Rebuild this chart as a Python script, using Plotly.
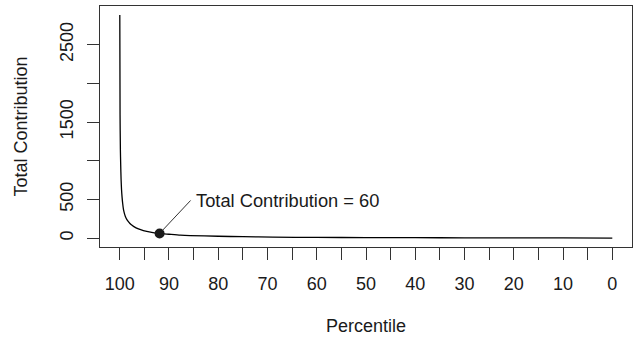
import plotly.graph_objects as go

# Percentile (x) and total contribution (y) of the curve
percentile = [99.98, 99.93, 99.86, 99.8, 99.72, 99.63, 99.52, 99.4, 99.23, 99.05,
              98.85, 98.54, 98.2, 97.7, 97.2, 96.2, 95.2, 93.5, 91.9, 90.0,
              87.7, 85.7, 80.0, 75.0, 68.9, 60.0, 50.0, 40.0, 30.0, 20.0,
              10.0, 0.0]
contribution = [2885, 1600, 1143, 950, 760, 627, 530, 450, 368, 320,
                280, 239, 210, 175, 152, 118, 97, 75, 60, 50,
                38, 32, 24, 18, 12, 9, 7, 5, 4, 3,
                2, 1]

# Highlighted point
mark_pct = [91.9]
mark_val = [60]
mark_label = "Total Contribution = 60"

x_ticks = list(range(0, 101, 5))
x_text = [str(v) if v % 10 == 0 else "" for v in x_ticks]
y_ticks = [0, 500, 1000, 1500, 2000, 2500]
y_text = ["0", "500", "", "1500", "", "2500"]

FONT = "Liberation Sans, Arial, Helvetica, sans-serif"
INK = "#1a1a1a"

fig = go.Figure()
fig.add_trace(go.Scatter(
    x=percentile, y=contribution, mode="lines",
    line=dict(color="black", width=1.3, shape="spline", smoothing=0.6),
    hoverinfo="skip", showlegend=False,
))
fig.add_trace(go.Scatter(
    x=mark_pct, y=mark_val, mode="markers",
    marker=dict(color=INK, size=10), showlegend=False,
))

fig.add_annotation(
    x=mark_pct[0], y=mark_val[0], xref="x", yref="y",
    text=mark_label, showarrow=True, arrowhead=0, arrowwidth=1,
    arrowcolor="#333333", ax=31, ay=-33, xanchor="left", yanchor="middle",
    borderpad=4, standoff=4, font=dict(family=FONT, size=18.3, color=INK),
)

axis_common = dict(
    showline=True, linecolor="#333333", linewidth=1.3, mirror=True,
    ticks="outside", ticklen=12, tickwidth=1, tickcolor="#333333",
    showgrid=False, zeroline=False,
    tickfont=dict(family=FONT, size=18, color=INK),
    title_font=dict(family=FONT, size=18, color=INK),
)

fig.update_layout(
    width=641, height=338,
    margin=dict(l=100, r=9, t=6, b=91),
    paper_bgcolor="white", plot_bgcolor="white",
    xaxis=dict(range=[104, -4], tickmode="array", tickvals=x_ticks, ticktext=x_text,
               title=dict(text="Percentile", standoff=26), ticklabelstandoff=8,
               **axis_common),
    yaxis=dict(range=[-115, 3000], tickmode="array", tickvals=y_ticks, ticktext=y_text,
               tickangle=-90, title=dict(text="Total Contribution", standoff=24),
               ticklabelstandoff=7, **axis_common),
)

fig.write_html("out.html")
